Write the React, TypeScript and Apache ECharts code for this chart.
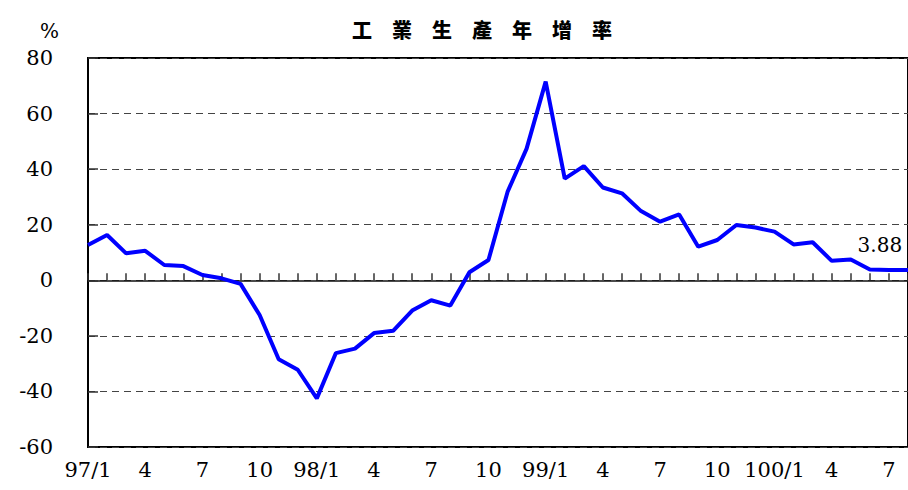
import React, { useEffect, useRef } from "react";
import * as echarts from "echarts";

const categories = [
  "97/1", "97/2", "97/3", "97/4", "97/5", "97/6", "97/7", "97/8", "97/9", "97/10", "97/11", "97/12",
  "98/1", "98/2", "98/3", "98/4", "98/5", "98/6", "98/7", "98/8", "98/9", "98/10", "98/11", "98/12",
  "99/1", "99/2", "99/3", "99/4", "99/5", "99/6", "99/7", "99/8", "99/9", "99/10", "99/11", "99/12",
  "100/1", "100/2", "100/3", "100/4", "100/5", "100/6", "100/7", "100/8",
];

const growth = [
  12.7, 16.3, 9.7, 10.6, 5.5, 5.1, 1.9, 0.7, -1.3, -12.5, -28.4, -32.2,
  -42.5, -26.2, -24.6, -19.0, -18.2, -10.9, -7.2, -9.1, 2.9, 7.3, 31.8, 47.4,
  71.5, 36.6, 41.1, 33.4, 31.3, 24.9, 21.1, 23.7, 12.1, 14.5, 19.9, 19.0,
  17.5, 12.9, 13.7, 7.0, 7.5, 3.88, 3.7, 3.7,
];

const labelledIndex = 41;
const labelText = "3.88";
const titleText = "工　業　生　產　年　增　率";
const unitText = "%";

const SERIF = "DejaVu Serif, serif";

export default function App() {
  const ref = useRef<HTMLDivElement>(null);

  useEffect(() => {
    if (!ref.current) return;
    const chart = echarts.init(ref.current, undefined, { renderer: "svg" });

    const seriesData = growth.map((v, i) =>
      i === labelledIndex
        ? {
            value: v,
            label: {
              show: true,
              formatter: labelText,
              position: "top",
              distance: 14,
              offset: [10, 0],
              fontFamily: SERIF,
              fontSize: 20,
              color: "#000",
            },
          }
        : v
    );

    const tickFormatter = (v: string) => {
      const parts = v.split("/");
      const m = parts[1];
      if (m === "1") return v;
      return m;
    };

    chart.setOption({
      animation: false,
      backgroundColor: "#fff",
      title: {
        text: titleText,
        left: 347,
        top: 14,
        textStyle: {
          fontFamily: "Noto Sans CJK TC",
          fontSize: 20,
          fontWeight: 900,
          color: "#000",
        },
      },
      graphic: [
        {
          type: "text",
          left: 40,
          top: 21,
          style: {
            text: unitText,
            fontFamily: SERIF,
            fontSize: 20,
            fill: "#000",
          },
        },
      ],
      grid: {
        left: 88,
        top: 58,
        bottom: 43,
        right: -9,
        show: true,
        borderColor: "#000",
        borderWidth: 2,
        backgroundColor: "transparent",
      },
      xAxis: [
        {
          type: "category",
          data: categories,
          boundaryGap: false,
          position: "bottom",
          axisLine: { show: false, onZero: false },
          axisTick: { show: false },
          splitLine: { show: false },
          axisLabel: {
            interval: 2,
            margin: 12,
            formatter: tickFormatter,
            fontFamily: SERIF,
            fontSize: 21,
            color: "#000",
          },
        },
        {
          type: "category",
          data: categories,
          boundaryGap: false,
          position: "bottom",
          axisLine: { show: true, onZero: true, lineStyle: { color: "#111", width: 1.5 } },
          axisTick: {
            show: true,
            inside: true,
            length: 7,
            interval: 0,
            lineStyle: { color: "#333", width: 1.5 },
          },
          axisLabel: { show: false },
          splitLine: { show: false },
        },
      ],
      yAxis: {
        type: "value",
        min: -60,
        max: 80,
        interval: 20,
        axisLine: { show: true, onZero: false, lineStyle: { color: "#000", width: 2 } },
        axisTick: { show: true, inside: true, length: 10, lineStyle: { color: "#333", width: 1.5 } },
        axisLabel: {
          margin: 35,
          fontFamily: SERIF,
          fontSize: 21,
          color: "#000",
        },
        splitLine: {
          show: true,
          lineStyle: { color: "#444", width: 1, type: [7, 5] },
        },
      },
      series: [
        {
          type: "line",
          xAxisIndex: 0,
          data: seriesData,
          symbol: "circle",
          symbolSize: 0.01,
          showSymbol: true,
          itemStyle: { color: "rgba(0,0,255,0)" },
          lineStyle: { color: "#0000ff", width: 4 },
          z: 5,
        },
      ],
    });

    return () => chart.dispose();
  }, []);

  return (
    <div
      ref={ref}
      style={{ position: "fixed", left: 0, top: 0, width: 908, height: 490, background: "#fff" }}
    />
  );
}
